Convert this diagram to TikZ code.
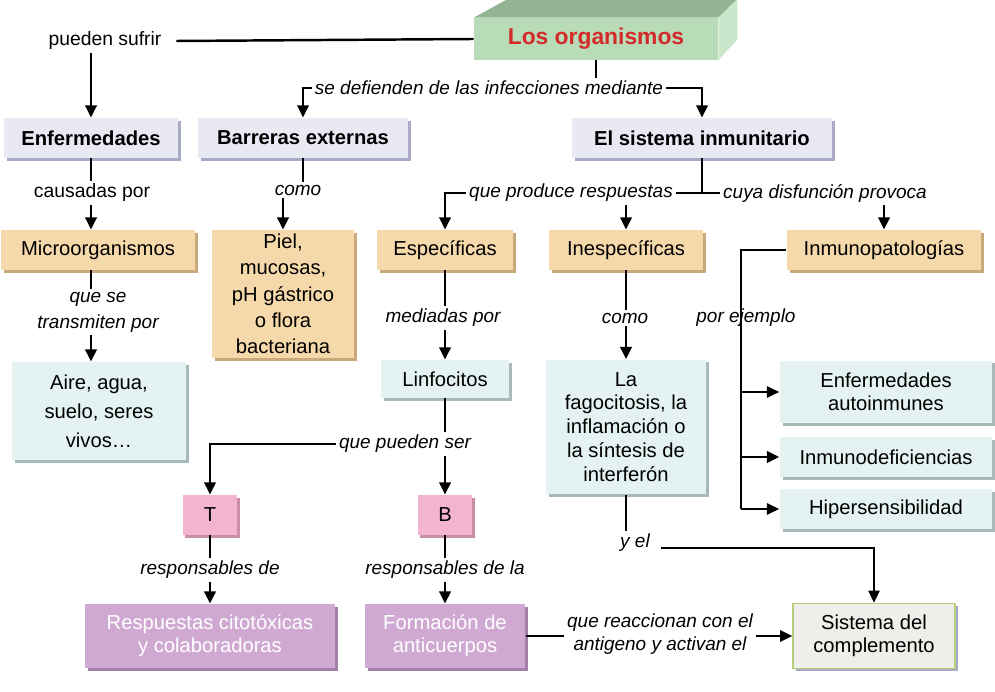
\documentclass[tikz,border=0pt]{standalone}
\usepackage{fontspec}
\setmainfont{Liberation Sans}
\usepackage{tikz}
\usetikzlibrary{arrows.meta, positioning, calc, shadows}
\definecolor{orgfront}{HTML}{B8DCB8}
\definecolor{orgtop}{HTML}{93B393}
\definecolor{orgside}{HTML}{CBE7CB}
\definecolor{orgred}{HTML}{D42A2A}
\definecolor{lavfill}{HTML}{E9E9F3}
\definecolor{lavshade}{HTML}{A9ABC6}
\definecolor{tanfill}{HTML}{F5D9AA}
\definecolor{tanshade}{HTML}{C9A97A}
\definecolor{aquafill}{HTML}{E5F2F2}
\definecolor{aquashade}{HTML}{A7B9B9}
\definecolor{pinkfill}{HTML}{F2B4CF}
\definecolor{pinkshade}{HTML}{C78FA8}
\definecolor{mauvefill}{HTML}{CFA9D2}
\definecolor{mauveshade}{HTML}{A37FA8}
\definecolor{compfill}{HTML}{EFEEEA}
\definecolor{compedge}{HTML}{B5CF7A}
\tikzset{basebox/.style={rectangle,align=center,inner sep=2pt,font=\fontsize{11.5}{14}\selectfont},
         shade/.style={drop shadow={shadow xshift=1.7pt,shadow yshift=-1.7pt,fill=#1,opacity=1}},
         lavbox/.style={basebox,fill=lavfill,shade=lavshade,font=\fontsize{11.5}{14}\selectfont\bfseries,minimum height=0.8cm},
         tanbox/.style={basebox,fill=tanfill,shade=tanshade,minimum height=0.8cm},
         aquabox/.style={basebox,fill=aquafill,shade=aquashade,minimum height=0.8cm},
         pinkbox/.style={basebox,fill=pinkfill,shade=pinkshade,minimum width=1.1cm,minimum height=0.8cm},
         mauvebox/.style={basebox,fill=mauvefill,shade=mauveshade,text=white,minimum height=1.28cm},
         compbox/.style={basebox,fill=compfill,draw=compedge,line width=0.8pt,shade=lavshade,minimum height=1.3cm},
         lbl/.style={inner sep=1.5pt,align=center,font=\fontsize{10.8}{14}\selectfont\itshape},
         plainlbl/.style={inner sep=1.5pt,align=center,font=\fontsize{11}{14}\selectfont},
         conn/.style={line width=1.4pt},
         thinconn/.style={line width=0.9pt},
         arrow/.style={-{Triangle[length=7pt,width=6.5pt]},line width=1.4pt},
         thinarrow/.style={-{Triangle[length=7pt,width=6.5pt]},line width=0.9pt}}

\begin{document}
\begin{tikzpicture}[x=0.02cm,y=-0.02cm]
    \useasboundingbox (0,0) rectangle (995,692);
    % cabecera en relieve
    \node (org) [rectangle,fill=orgfront,minimum width=4.88cm,minimum height=0.84cm,
                 text=orgred,font=\fontsize{13}{15}\selectfont\bfseries] at (596,39) {Los organismos};
    \fill[orgtop] (org.north west) -- ++(33,-18) -- ++(230,0) -- (org.north east) -- cycle;
    \fill[orgside] (org.north east) -- ++(19,-18) -- ++(0,40) -- (org.south east) -- cycle;

    \node (enf) [lavbox,minimum width=3.5cm] at (91,138) {Enfermedades};
    \node (barr) [lavbox,minimum width=4.2cm] at (303,138) {Barreras externas};
    \node (sist) [lavbox,minimum width=5.2cm] at (702,138) {El sistema inmunitario};

    \node (micro) [tanbox,minimum width=3.9cm] at (98,250) {Microorganismos};
    \node (piel) [tanbox,minimum width=2.84cm,minimum height=2.56cm,font=\fontsize{11.5}{15}\selectfont] at (283,294) {Piel,\\mucosas,\\pH gástrico\\o flora\\bacteriana};
    \node (espec) [tanbox,minimum width=2.72cm] at (445,250) {Específicas};
    \node (inesp) [tanbox,minimum width=3.1cm] at (626,250) {Inespecíficas};
    \node (inmuno) [tanbox,minimum width=3.9cm] at (884,250) {Inmunopatologías};

    \node (aire) [aquabox,minimum width=3.5cm,minimum height=1.96cm,font=\fontsize{11.5}{16.5}\selectfont] at (99,411) {Aire, agua,\\suelo, seres\\vivos…};
    \node (linf) [aquabox,minimum width=2.58cm,minimum height=0.76cm] at (445,379) {Linfocitos};
    \node (fago) [aquabox,minimum width=3.2cm,minimum height=2.7cm,font=\fontsize{11.5}{13.6}\selectfont] at (626,427) {La\\fagocitosis, la\\inflamación o\\la síntesis de\\interferón};
    \node (autoin) [aquabox,minimum width=4.26cm,minimum height=1.26cm,font=\fontsize{11.5}{13}\selectfont] at (886,392) {Enfermedades\\autoinmunes};
    \node (inmdef) [aquabox,minimum width=4.26cm] at (886,457) {Inmunodeficiencias};
    \node (hiper) [aquabox,minimum width=4.26cm] at (886,509) {Hipersensibilidad};

    \node (tcel) [pinkbox] at (210,515) {T};
    \node (bcel) [pinkbox] at (445,515) {B};
    \node (resp) [mauvebox,minimum width=5cm,font=\fontsize{11.5}{13}\selectfont] at (210,636) {Respuestas citotóxicas\\y colaboradoras};
    \node (form) [mauvebox,minimum width=3.22cm,font=\fontsize{11.5}{13}\selectfont] at (445,636) {Formación de\\anticuerpos};
    \node (compl) [compbox,minimum width=3.24cm,font=\fontsize{11.5}{13}\selectfont] at (874,636) {Sistema del\\complemento};

    % etiquetas de enlace
    \node (lsufrir) [plainlbl] at (105,41) {pueden sufrir};
    \node (ldef) [lbl] at (489,88) {se defienden de las infecciones mediante};
    \node (lcaus) [plainlbl] at (92,193) {causadas por};
    \node (lcomo1) [lbl] at (298,190) {como};
    \node (ltrans) [lbl,font=\fontsize{10.8}{14.7}\selectfont\itshape] at (98,312) {que se\\transmiten por};
    \node (lprod) [lbl] at (571,193) {que produce respuestas};
    \node (ldisf) [lbl] at (825,193) {cuya disfunción provoca};
    \node (lmed) [lbl] at (443,318) {mediadas por};
    \node (lcomo2) [lbl] at (625,318) {como};
    \node (lpued) [lbl] at (405,444) {que pueden ser};
    \node (lrespT) [lbl] at (210,570) {responsables de};
    \node (lrespB) [lbl] at (445,570) {responsables de la};
    \node (lyel) [lbl] at (635,543) {y el};
    \node (lreacc) [lbl,font=\fontsize{10.8}{13}\selectfont\itshape] at (660,634) {que reaccionan con el\\antigeno y activan el};
    \coordinate (trunk) at (741,0);

    \draw[conn] (org.west) -- ($(lsufrir.east)+(12,0)$);
    \draw[arrow] (lsufrir.south -| enf.north) -- (enf.north);
    \draw[conn] (org.south) -- (org.south |- ldef.north);
    \draw[arrow] (ldef.west) -| (barr.north);
    \draw[arrow] (ldef.east) -| (sist.north);

    \draw[conn] (enf.south) -- (enf.south |- lcaus.north);
    \draw[arrow] (lcaus.south -| enf.south) -- (enf.south |- micro.north);
    \draw[conn] (barr.south) -- (barr.south |- lcomo1.north);
    \draw[arrow] (lcomo1.south -| piel.north) -- (piel.north);
    \draw[conn] (micro.south -| enf.south) -- (enf.south |- ltrans.north);
    \draw[arrow] (ltrans.south -| enf.south) -- (enf.south |- aire.north);

    \draw[conn] (sist.south) -- (sist.south |- lprod.east);
    \draw[conn] (lprod.east) -- (ldisf.west);
    \draw[arrow] (lprod.west) -| (espec.north);
    \draw[arrow] (lprod.south -| inesp.north) -- (inesp.north);
    \draw[arrow] (ldisf.south -| inmuno.north) -- (inmuno.north);

    \draw[conn] (espec.south) -- (lmed.north -| espec.south);
    \draw[arrow] (lmed.south -| linf.north) -- (linf.north);
    \draw[conn] (inesp.south) -- (lcomo2.north -| inesp.south);
    \draw[arrow] (lcomo2.south -| fago.north) -- (fago.north);

    \draw[conn] (inmuno.west) -| (trunk |- hiper.west);
    \draw[thinarrow] (trunk |- autoin.west) -- (autoin.west);
    \draw[arrow] (trunk |- inmdef.west) -- (inmdef.west);
    \draw[thinarrow] (trunk |- hiper.west) -- (hiper.west);
    \node (lejem) [lbl] at (746,318) {por ejemplo};

    \draw[conn] (linf.south) -- (linf.south |- lpued.north);
    \draw[arrow] (lpued.west) -| (tcel.north);
    \draw[arrow] (lpued.south -| bcel.north) -- (bcel.north);
    \draw[conn] (tcel.south) -- (tcel.south |- lrespT.north);
    \draw[arrow] (lrespT.south -| resp.north) -- (resp.north);
    \draw[conn] (bcel.south) -- (bcel.south |- lrespB.north);
    \draw[arrow] (lrespB.south -| form.north) -- (form.north);

    \draw[conn] (fago.south) -- (fago.south |- lyel.north);
    \draw[thinarrow] ($(lyel.base east)+(8,0)$) -| (compl.north);
    \draw[thinconn] (form.east) -- (form.east -| lreacc.west);
    \draw[arrow] (lreacc.east |- compl.west) -- (compl.west);
  \end{tikzpicture}
\end{document}
